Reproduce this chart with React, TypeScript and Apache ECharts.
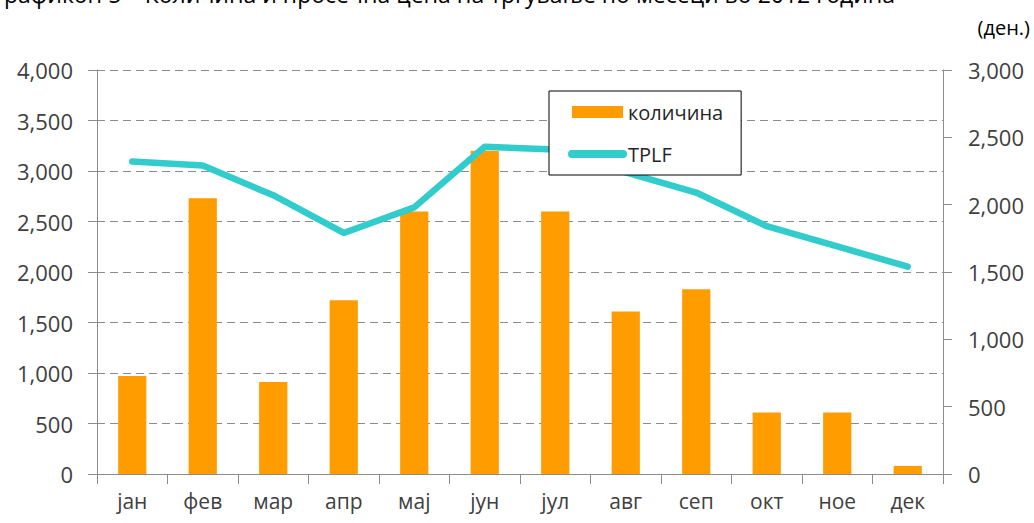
import React, { useEffect, useRef } from "react";
import * as echarts from "echarts";

const categories = ["јан", "фев", "мар", "апр", "мај", "јун", "јул", "авг", "сеп", "окт", "ное", "дек"];
const quantity = [970, 2730, 910, 1720, 2600, 3200, 2600, 1610, 1830, 610, 610, 80];
const tplf = [2320, 2290, 2070, 1790, 1980, 2430, 2410, 2240, 2090, 1840, 1690, 1540];
const leftTicks = { min: 0, max: 4000, interval: 500 };
const rightTicks = { min: 0, max: 3000, interval: 500 };
const titleText = "Графикон 5 – Количина и просечна цена на тргување по месеци во 2012 година";
const unitText = "(ден.)";
const seriesNames = ["количина", "TPLF"];

const FONT = "'Open Sans', 'Noto Sans', sans-serif";
const TEXT_COLOR = "#404040";
const AXIS_COLOR = "#8c8c8c";
const BAR_COLOR = "#FF9C00";
const LINE_COLOR = "#33CCCC";

export default function App() {
  const ref = useRef<HTMLDivElement>(null);

  useEffect(() => {
    if (!ref.current) return;
    const chart = echarts.init(ref.current, undefined, { renderer: "svg" });
    const numFmt = (v: number) => v.toLocaleString("en-US");
    chart.setOption({
      animation: false,
      backgroundColor: "#ffffff",
      textStyle: { fontFamily: FONT },
      grid: { left: 97, right: 91, top: 70, bottom: 49, containLabel: false },
      graphic: [
        {
          type: "text",
          x: -8,
          y: 5,
          style: {
            text: titleText,
            font: `23px ${FONT}`,
            fill: "#000000",
            verticalAlign: "bottom",
            align: "left",
          },
        },
        {
          type: "text",
          x: 1030,
          y: 27,
          style: {
            text: unitText,
            font: `20px ${FONT}`,
            fill: "#000000",
            verticalAlign: "middle",
            align: "right",
          },
        },
      ],
      legend: {
        orient: "vertical",
        left: 549,
        top: 91,
        padding: [11, 18, 11, 19],
        itemGap: 22,
        itemWidth: 51,
        itemHeight: 12,
        backgroundColor: "#ffffff",
        borderColor: "#000000",
        borderWidth: 1,
        borderRadius: 0,
        textStyle: { fontFamily: FONT, fontSize: 20, color: "#262626", lineHeight: 20 },
        data: [
          { name: seriesNames[0], icon: "rect", itemStyle: { color: BAR_COLOR } },
          {
            name: seriesNames[1],
            itemStyle: { opacity: 0 },
            lineStyle: { width: 8, color: LINE_COLOR, cap: "round" },
          },
        ],
      },
      xAxis: {
        type: "category",
        data: categories,
        boundaryGap: true,
        axisLine: { show: true, lineStyle: { color: AXIS_COLOR, width: 1 } },
        axisTick: { show: true, length: 10, alignWithLabel: false, interval: 0, lineStyle: { color: AXIS_COLOR } },
        axisLabel: { color: TEXT_COLOR, fontSize: 21, fontFamily: FONT, margin: 16, interval: 0 },
      },
      yAxis: [
        {
          type: "value",
          min: leftTicks.min,
          max: leftTicks.max,
          interval: leftTicks.interval,
          axisLine: { show: true, lineStyle: { color: AXIS_COLOR, width: 1 } },
          axisTick: { show: true, length: 9, lineStyle: { color: AXIS_COLOR } },
          axisLabel: { color: TEXT_COLOR, fontSize: 22, fontFamily: FONT, margin: 24, formatter: numFmt },
          splitLine: { show: true, lineStyle: { color: AXIS_COLOR, width: 1, type: [8, 5] } },
        },
        {
          type: "value",
          position: "right",
          min: rightTicks.min,
          max: rightTicks.max,
          interval: rightTicks.interval,
          axisLine: { show: true, lineStyle: { color: AXIS_COLOR, width: 1 } },
          axisTick: { show: true, length: 9, lineStyle: { color: AXIS_COLOR } },
          axisLabel: { color: TEXT_COLOR, fontSize: 22, fontFamily: FONT, margin: 25, formatter: numFmt },
          splitLine: { show: false },
        },
      ],
      series: [
        {
          name: seriesNames[0],
          type: "bar",
          data: quantity,
          yAxisIndex: 0,
          barWidth: "40%",
          itemStyle: { color: BAR_COLOR },
          z: 2,
        },
        {
          name: seriesNames[1],
          type: "line",
          data: tplf,
          yAxisIndex: 1,
          showSymbol: false,
          symbol: "none",
          smooth: false,
          lineStyle: { color: LINE_COLOR, width: 6.5, cap: "round", join: "round" },
          itemStyle: { color: LINE_COLOR },
          z: 3,
        },
      ],
    });
    return () => chart.dispose();
  }, []);

  return (
    <div
      ref={ref}
      style={{ position: "absolute", left: 0, top: 0, width: 1034, height: 523, background: "#fff" }}
    />
  );
}
